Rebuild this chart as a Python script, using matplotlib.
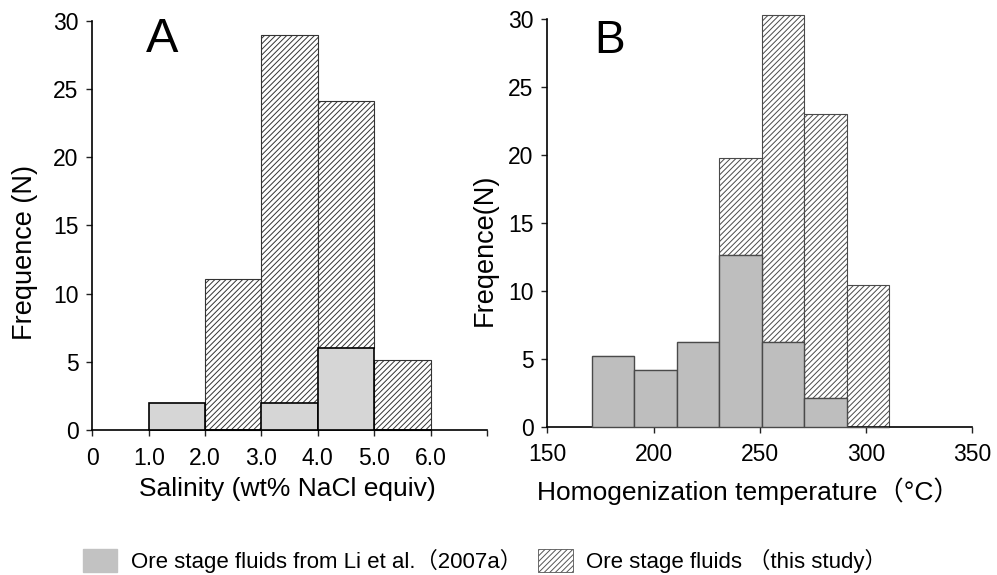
import matplotlib.pyplot as plt
from matplotlib.patches import Patch

# salinity histogram (A)
sal_left = [1.0, 2.0, 3.0, 4.0, 5.0]
li_sal = [2.0, 0, 2.0, 6.0, 0]
this_sal = [0, 11.1, 27.0, 18.1, 5.1]

# homogenization temperature histogram (B)
temp_left = [171, 191, 211, 231, 251, 271, 291]
li_temp = [5.2, 4.2, 6.2, 12.6, 6.2, 2.1, 0]
this_temp = [0, 0, 0, 7.2, 24.1, 20.9, 10.4]

yticks = [0, 5, 10, 15, 20, 25, 30]
sal_ticks = [0, 1, 2, 3, 4, 5, 6, 7]
sal_labels = ['0', '1.0', '2.0', '3.0', '4.0', '5.0', '6.0', '']
temp_ticks = [150, 200, 250, 300, 350]

plt.rcParams['font.family'] = ['Liberation Sans', 'Noto Sans CJK SC']
plt.rcParams['hatch.linewidth'] = 0.7

fig = plt.figure(figsize=(9.97, 5.75), dpi=100)
axA = fig.add_axes([0.0926, 0.2522, 0.3959, 0.7113])
axB = fig.add_axes([0.549, 0.2579, 0.4262, 0.7091])

# A
axA.bar(sal_left, this_sal, width=1.0, bottom=li_sal, align='edge', color='white',
        edgecolor='#333333', hatch='//////', linewidth=0.8, clip_on=False, zorder=2)
axA.bar(sal_left, li_sal, width=1.0, align='edge', color='#d6d6d6',
        edgecolor='black', linewidth=1.2, clip_on=False, zorder=3)
axA.set_xlim(0, 7)
axA.set_xticks(sal_ticks)
axA.set_xticklabels(sal_labels)

# B
axB.bar(temp_left, this_temp, width=20, bottom=li_temp, align='edge', color='white',
        edgecolor='#4a4a4a', hatch='//////', linewidth=0.8, clip_on=False, zorder=2)
axB.bar(temp_left, li_temp, width=20, align='edge', color='#bebebe',
        edgecolor='#4a4a4a', linewidth=1.0, clip_on=False, zorder=3)
axB.set_xlim(150, 350)
axB.set_xticks(temp_ticks)

for ax in (axA, axB):
    ax.set_ylim(0, 30)
    ax.set_yticks(yticks)
    for s in ('top', 'right'):
        ax.spines[s].set_visible(False)
    for s in ('left', 'bottom'):
        ax.spines[s].set_linewidth(1.2)
    ax.tick_params(labelsize=16.5, direction='out', length=4, width=1, color='#222222')
    ax.tick_params(axis='x', pad=8)
    ax.tick_params(axis='y', pad=6)

# panel letters and axis titles
fig.text(0.1464, 0.9096, 'A', fontsize=35, va='baseline')
fig.text(0.5958, 0.9078, 'B', fontsize=33, va='baseline')
fig.text(0.2884, 0.1374, 'Salinity (wt% NaCl equiv)', fontsize=19, ha='center', va='baseline')
fig.text(0.7503, 0.1304, 'Homogenization temperature（°C）', fontsize=19, ha='center', va='baseline')
fig.text(0.0251, 0.5617, 'Frequence (N)', fontsize=19.5, rotation=90, ha='center', va='center')
fig.text(0.4865, 0.5652, 'Freqence(N)', fontsize=19.5, rotation=90, ha='center', va='center')

handles = [Patch(facecolor='#c2c2c2', edgecolor='#c2c2c2'),
           Patch(facecolor='white', edgecolor='#555555', hatch='//////', linewidth=0.6)]
fig.legend(handles, ['Ore stage fluids from Li et al.（2007a）', 'Ore stage fluids （this study）'],
           loc='center left', bbox_to_anchor=(0.083, 0.0243), ncol=2, frameon=False,
           prop={'size': 16}, borderpad=0, borderaxespad=0,
           handlelength=1.55, handleheight=1.2, handletextpad=0.6, columnspacing=0.75)

fig.savefig('out.png', dpi=100)
